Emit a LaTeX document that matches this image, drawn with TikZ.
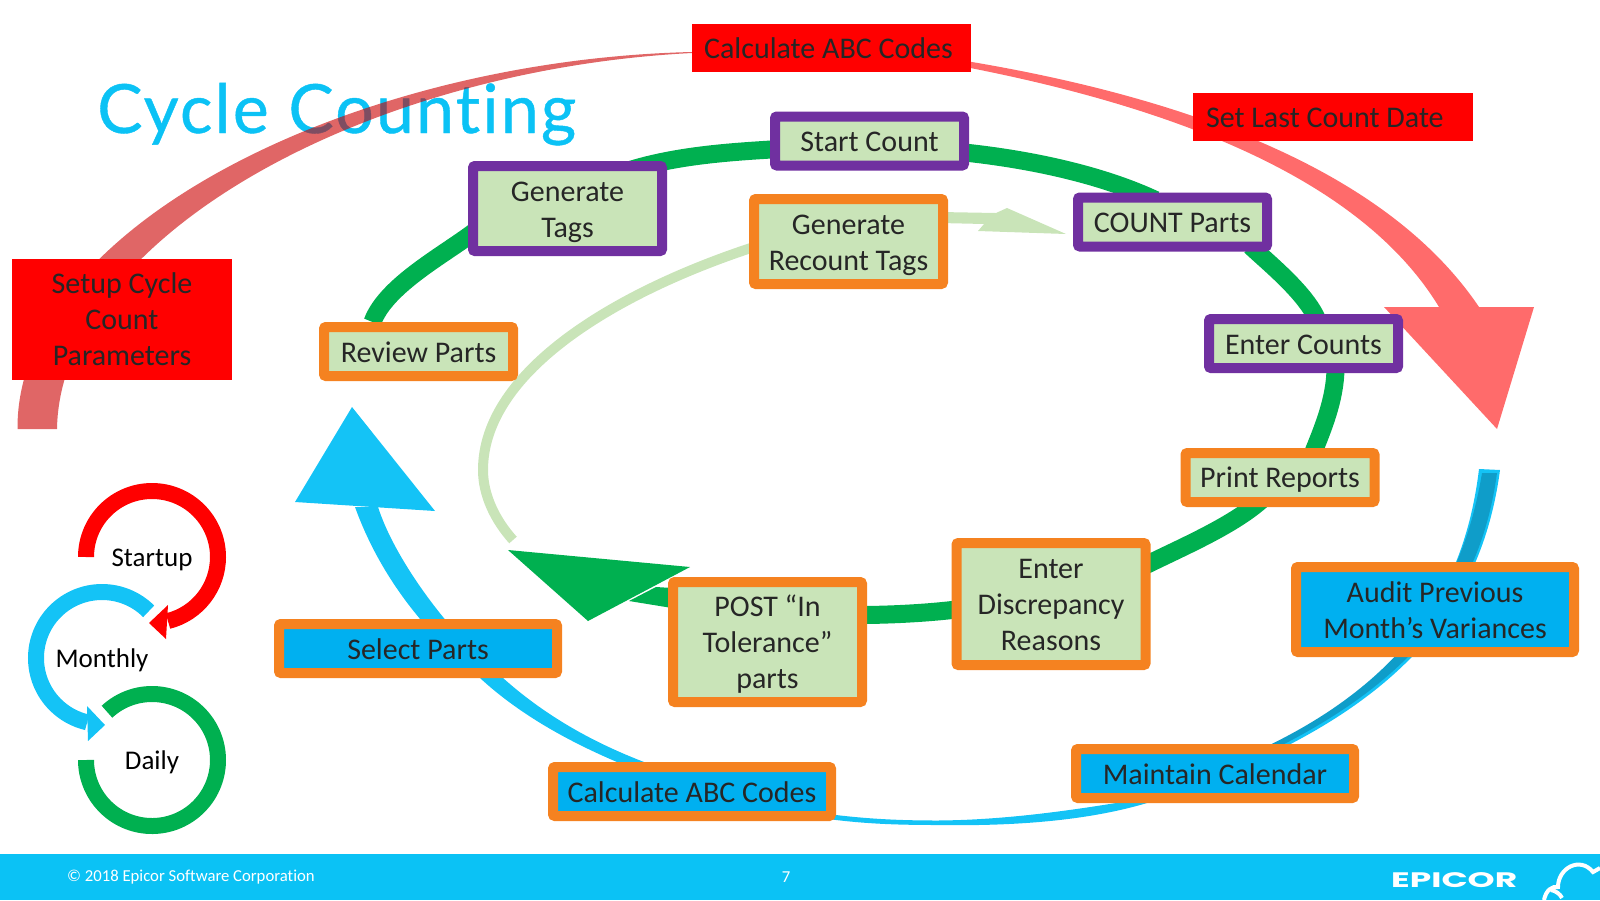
\documentclass[tikz,border=0pt]{standalone}
\usepackage{fontspec}
\usepackage{graphicx}
\setmainfont{Carlito}[Ligatures=CommonOff]
\newfontfamily\logofont{Poppins}
\newfontfamily\titlefont{Lato}[Ligatures=CommonOff,LetterSpace=3.2,FakeBold=0.6]
\usetikzlibrary{backgrounds}
\definecolor{swooshred}{HTML}{CB0000}
\definecolor{swooshpink}{HTML}{FF6B6B}
\definecolor{skyblue}{HTML}{14C3F6}
\definecolor{coreblue}{HTML}{0F9DC9}
\definecolor{boxblue}{HTML}{00B0F0}
\definecolor{boxgreen}{HTML}{C9E4B8}
\definecolor{ringgreen}{HTML}{00B050}
\definecolor{edgeorange}{HTML}{F58220}
\definecolor{edgepurple}{HTML}{7030A0}
\definecolor{footblue}{HTML}{0BC2F5}
\definecolor{inktext}{HTML}{262626}
\begin{document}
\begin{tikzpicture}[x=1pt,y=-1pt,
    textdrop/.style={execute at begin node={\rule{0pt}{#1}}},
    task/.style={rectangle, line width=10pt, rounded corners=2pt, text=inktext, align=center, textdrop=21.5pt,
      inner sep=0pt, font=\fontsize{30}{36}\selectfont, minimum width=189pt, minimum height=49pt},
    orangegreen/.style={task, draw=edgeorange, fill=boxgreen},
    purplegreen/.style={task, draw=edgepurple, fill=boxgreen},
    orangeblue/.style={task, draw=edgeorange, fill=boxblue, minimum width=278pt},
    redbox/.style={rectangle, fill=red, text=inktext, align=center, inner sep=0pt, textdrop=21.5pt,
      font=\fontsize{30}{36}\selectfont, minimum width=279pt, minimum height=48pt},
    loopname/.style={circle, minimum size=132pt, inner sep=0pt, outer sep=0pt, text=black,
      font=\fontsize{27}{30}\selectfont, textdrop=22.5pt},
    ringline/.style={draw=ringgreen, line width=18pt},
    looparc/.style={line width=16pt}]
  \useasboundingbox (0,0) rectangle (1600,900);
  \fill[footblue] (0,854) rectangle (1600,900);

  % outer ring, red
  \node[redbox] (calcred) at (831.5,47.5) {Calculate ABC Codes\kern6pt};
  \node[redbox, minimum width=280pt, text width=254pt, align=flush left] (setlast) at (1333,117) {Set Last Count Date};
  \node[redbox, minimum width=220pt, minimum height=121pt, textdrop=92pt] (setup) at (122,319.5) {Setup Cycle\\Count\\Parameters};

  % middle ring, green
  \node[orangegreen] (review) at (418.5,351.5) {Review Parts};
  \node[purplegreen, minimum height=85pt, textdrop=64pt] (gentags) at (567.5,208.5) {Generate\\Tags};
  \node[purplegreen] (startcount) at (869.5,141) {Start Count};
  \node[purplegreen] (countparts) at (1172.5,222) {COUNT Parts};
  \node[purplegreen] (entercounts) at (1303.5,343.5) {Enter Counts};
  \node[orangegreen, textdrop=25.5pt] (printrep) at (1280,477.5) {Print Reports};
  \node[orangegreen, minimum height=122pt, textdrop=94pt] (discrep) at (1051,604) {Enter\\Discrepancy\\Reasons};
  \node[orangegreen, minimum height=120pt, textdrop=98pt] (post) at (767.5,642) {POST “In\\Tolerance”\\parts};
  \node[orangegreen, minimum height=85pt, textdrop=64pt] (recount) at (848.5,241.5) {Generate\\Recount Tags};

  % lower ring, blue
  \node[orangeblue] (selectp) at (418,648.5) {Select Parts};
  \node[orangeblue] (calcblue) at (692,791.5) {Calculate ABC Codes};
  \node[orangeblue] (maintain) at (1215,773.5) {Maintain Calendar};
  \node[orangeblue, minimum height=85pt, textdrop=58pt] (audit) at (1435,609.5) {Audit Previous\\Month’s Variances};

  \begin{scope}[on background layer]
    \node[anchor=base west, inner sep=0pt, text=footblue, font=\titlefont\fontsize{68}{80}\selectfont] (title) at (97,133) {Cycle Counting};

    % red swoosh, left half is see through
    \fill[swooshred, opacity=.6] (17.5,429) .. controls (16,228) and (350,60) .. (692,52)
      -- (692,53) .. controls (360,70) and (60,240) .. (57,429) -- cycle;
    \fill[swooshpink] (960,60) .. controls (1205,100) and (1392,178) .. (1479,307)
      -- (1439,307) .. controls (1365,185) and (1190,110) .. (960,66) -- cycle;
    \coordinate (redtip) at (1497,429);
    \fill[swooshpink] (1384,307) -- (1534,307) -- (redtip) -- cycle;

    % blue swoosh
    \fill[skyblue] (1500,470) .. controls (1480,620) and (1385,725) .. (1147,803)
      .. controls (1080,823) and (1000,826) .. (938,825) .. controls (900,825) and (870,824) .. (836,820)
      .. controls (750,808) and (680,790) .. (617,762) .. controls (570,742) and (520,715) .. (480,678)
      .. controls (440,645) and (385,590) .. (355,507) -- (378,507)
      .. controls (395,560) and (450,635) .. (503,678) .. controls (550,720) and (600,745) .. (644,762)
      .. controls (700,785) and (770,805) .. (836,815) .. controls (870,819) and (900,820.5) .. (938,820.5)
      .. controls (1000,820) and (1060,812) .. (1116,803) .. controls (1380,735) and (1462,610) .. (1479,469) -- cycle;
    \fill[coreblue] (1497,473) .. controls (1477,620) and (1382,721) .. (1147,801)
      -- (1120,799) .. controls (1380,730) and (1459,610) .. (1482,473) -- cycle;
    \coordinate (bluetip) at (352,407);
    \fill[skyblue] (295,502) -- (bluetip) -- (435,511) -- cycle;

    % green ring, node to node
    \draw[ringline] ([xshift=-46pt]review.north) .. controls +(14,-38) and +(-30,24) .. ([xshift=-89pt,yshift=-20pt]gentags.center);
    \draw[ringline] ([xshift=55pt,yshift=36pt]gentags.center) .. controls +(50,-17) and +(-50,3) .. ([xshift=-90pt,yshift=-8pt]startcount.center);
    \draw[ringline] ([xshift=90pt,yshift=-11pt]startcount.center) .. controls +(60,6) and +(-60,-28) .. ([xshift=-17pt,yshift=22pt]countparts.center);
    \draw[ringline] ([xshift=78pt,yshift=-24pt]countparts.center) .. controls +(18,17) and +(-11,-27) .. ([xshift=14pt,yshift=23pt]entercounts.center);
    \draw[ringline] ([xshift=32pt,yshift=-24pt]entercounts.center) .. controls +(0,32) and +(10,-25) .. ([xshift=32pt,yshift=22pt]printrep.center);
    \draw[ringline] ([xshift=-18pt,yshift=-22pt]printrep.center) .. controls +(-30,27) and +(40,-20) .. ([xshift=89pt,yshift=36pt]discrep.center);
    \draw[ringline] ([xshift=-91pt,yshift=-5pt]discrep.center) .. controls +(-30,4) and +(30,0) .. ([xshift=92pt,yshift=27pt]post.center);
    \fill[ringgreen] ([shift={(4pt,54pt)}]post.west) -- (656,587) -- (629,601) -- ([shift={(4pt,34pt)}]post.west) -- cycle;
    \coordinate (greentip) at (508,550);
    \fill[ringgreen] (greentip) -- (690,567) -- (588,621) -- cycle;

    % pale ring
    \coordinate (paleend) at (513,540);
    \draw[boxgreen, line width=10pt] ([yshift=-4pt]recount.center) ++(-90,0) .. controls (620,290) and (483,370) .. (483,470) .. controls (483,495) and (495,520) .. (paleend);
    \coordinate (paletip) at (1066,234);
    \fill[boxgreen] (940,212) -- (996,213) -- (1007,208) -- (paletip) -- (978,231) -- (984,224) -- (940,223) -- cycle;
  \end{scope}

  % the three small loops
  \node[loopname] (startup) at (152,557) {Startup};
  \node[loopname] (monthly) at (102,658) {Monthly};
  \node[loopname] (daily) at (152,760) {Daily};
  \draw[red, looparc] (startup.west) arc[start angle=180, end angle=-76, radius=66pt];
  \fill[red] (168,605) -- (149,623) -- (166,639) -- cycle;
  \draw[skyblue, looparc] (monthly.45) arc[start angle=45, end angle=257, radius=66pt];
  \fill[skyblue] (87,706) -- (105,725) -- (88,741) -- cycle;
  \draw[ringgreen, looparc] (daily.133) arc[start angle=133, end angle=-180, radius=66pt];

  % footer
  \node[anchor=west, inner sep=0pt, text=white, font=\fontsize{16.7}{18}\selectfont] (copyr) at (67,877) {© 2018 Epicor Software Corporation};
  \node[inner sep=0pt, text=white, font=\fontsize{16.7}{18}\selectfont] (pagenum) at (786,877) {7};
  \node[anchor=west, inner sep=0pt, text=white, font=\logofont\bfseries\fontsize{21}{24}\selectfont] (logo) at (1391,880.5) {\scalebox{1.64}[1]{EPICOR}};
  \draw[white, line width=4pt] (1544,900) .. controls (1546,890) and (1552,886) .. (1558,887) .. controls (1558,868) and (1580,856) .. (1593,872) -- (1600,868);
  \draw[white, line width=4pt] (1551,890) .. controls (1556,891) and (1560,894) .. (1562,898);
\end{tikzpicture}
\end{document}
